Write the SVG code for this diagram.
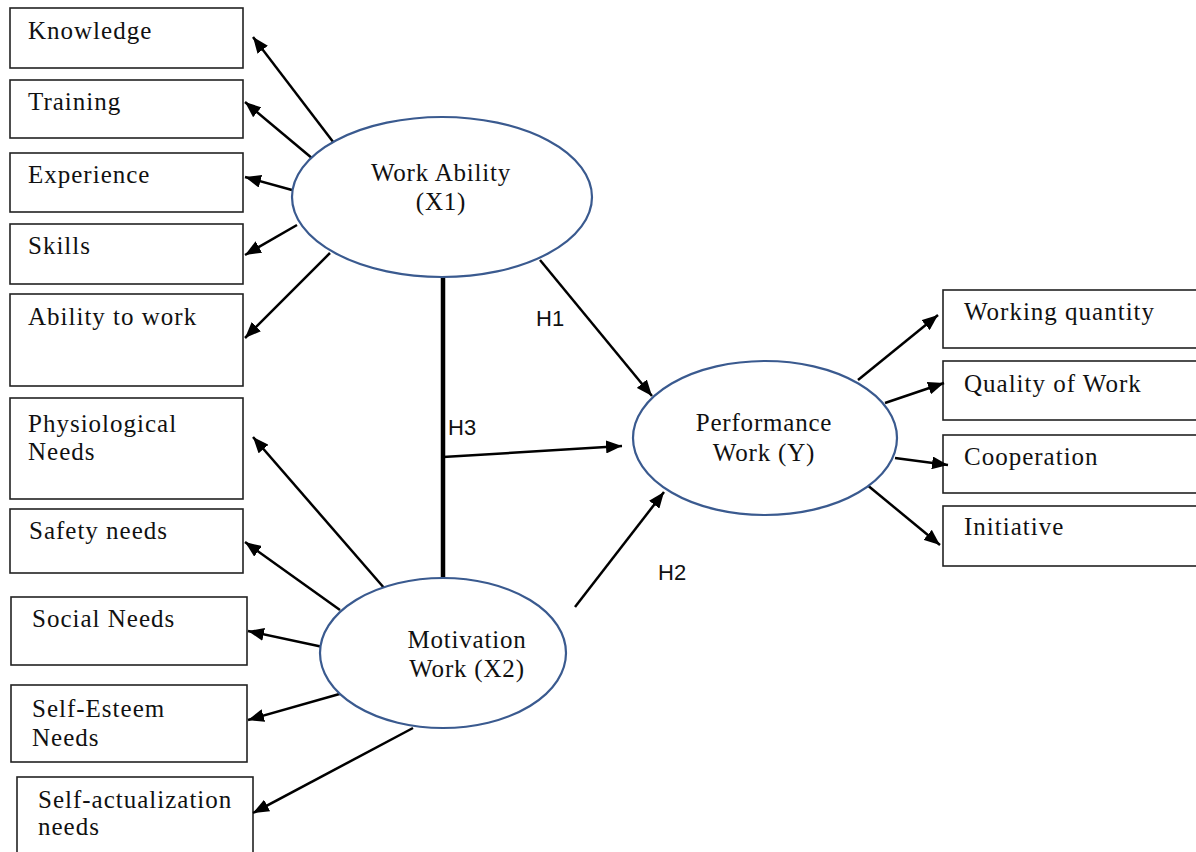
<svg xmlns="http://www.w3.org/2000/svg" width="1196" height="852" viewBox="0 0 1196 852">
<defs>
<marker id="ah" markerUnits="userSpaceOnUse" markerWidth="17" markerHeight="13" refX="16" refY="6.5" orient="auto">
<path d="M0,0 L16,6.5 L0,13 z" fill="#000"/>
</marker>
<style>
.box{fill:#fff;stroke:#222;stroke-width:1.6}
.ell{fill:#fff;stroke:#3a5a8f;stroke-width:2.2}
.t{font-family:"Liberation Serif","Times New Roman",serif;font-size:25px;letter-spacing:1px;fill:#111}
.tc{font-family:"Liberation Serif","Times New Roman",serif;font-size:25px;letter-spacing:0.8px;fill:#111;text-anchor:middle}
.h{font-family:"Liberation Sans",Arial,sans-serif;font-size:22px;fill:#111}
.c{stroke:#000;stroke-width:2.5;fill:none;marker-end:url(#ah)}
</style>
</defs>
<rect width="1196" height="852" fill="#fff"/>

<g id="knowledge"><rect class="box" x="10" y="8" width="233" height="60"/><text class="t" x="28" y="39">Knowledge</text></g>
<g id="training"><rect class="box" x="10" y="80" width="233" height="58"/><text class="t" x="28" y="110">Training</text></g>
<g id="experience"><rect class="box" x="10" y="153" width="233" height="59"/><text class="t" x="28" y="183">Experience</text></g>
<g id="skills"><rect class="box" x="10" y="224" width="233" height="60"/><text class="t" x="28" y="254">Skills</text></g>
<g id="ability"><rect class="box" x="10" y="294" width="233" height="92"/><text class="t" x="28" y="325">Ability to work</text></g>
<g id="physio"><rect class="box" x="10" y="398" width="233" height="101"/><text class="t" x="28" y="432">Physiological</text><text class="t" x="28" y="460">Needs</text></g>
<g id="safety"><rect class="box" x="10" y="509" width="233" height="64"/><text class="t" x="29" y="539">Safety needs</text></g>
<g id="social"><rect class="box" x="11" y="597" width="236" height="68"/><text class="t" x="32" y="627">Social Needs</text></g>
<g id="esteem"><rect class="box" x="11" y="685" width="236" height="77"/><text class="t" x="32" y="717">Self-Esteem</text><text class="t" x="32" y="746">Needs</text></g>
<g id="actual"><rect class="box" x="17" y="777" width="236" height="90"/><text class="t" x="38" y="808">Self-actualization</text><text class="t" x="38" y="835">needs</text></g>

<g id="quantity"><rect class="box" x="943" y="290" width="260" height="58"/><text class="t" x="964" y="320">Working quantity</text></g>
<g id="quality"><rect class="box" x="943" y="361" width="260" height="59"/><text class="t" x="964" y="392">Quality of Work</text></g>
<g id="coop"><rect class="box" x="943" y="435" width="260" height="58"/><text class="t" x="964" y="465">Cooperation</text></g>
<g id="init"><rect class="box" x="943" y="506" width="260" height="60"/><text class="t" x="964" y="535">Initiative</text></g>

<g id="connectors">
<line class="c" x1="337" y1="147" x2="253" y2="37"/>
<line class="c" x1="313" y1="159" x2="245" y2="102"/>
<line class="c" x1="292" y1="190" x2="245" y2="177"/>
<line class="c" x1="297" y1="225" x2="245" y2="255"/>
<line class="c" x1="330" y1="253" x2="245" y2="338"/>
<line class="c" x1="385" y1="589" x2="253" y2="437"/>
<line class="c" x1="340" y1="610" x2="245" y2="542"/>
<line class="c" x1="323" y1="647" x2="248" y2="631"/>
<line class="c" x1="343" y1="693" x2="248" y2="720"/>
<line class="c" x1="413" y1="728" x2="253" y2="813"/>
<line class="c" x1="540" y1="260" x2="652" y2="396"/>
<line stroke="#000" stroke-width="4.5" x1="443" y1="273" x2="443" y2="578"/>
<line class="c" stroke-width="3.5" x1="443" y1="457" x2="622" y2="446"/>
<line class="c" x1="575" y1="607" x2="664" y2="492"/>
<line class="c" x1="858" y1="380" x2="938" y2="315"/>
<line class="c" x1="885" y1="403" x2="944" y2="383"/>
<line class="c" x1="895" y1="458" x2="948" y2="465"/>
<line class="c" x1="866" y1="484" x2="940" y2="545"/>
<text class="h" x="536" y="326">H1</text>
<text class="h" x="448" y="435">H3</text>
<text class="h" x="658" y="580">H2</text>
</g>

<g id="workability"><ellipse class="ell" cx="442" cy="197" rx="150" ry="80"/><text class="tc" x="441" y="181">Work Ability</text><text class="tc" x="441" y="210">(X1)</text></g>
<g id="performance"><ellipse class="ell" cx="765" cy="438" rx="132" ry="77"/><text class="tc" x="764" y="431">Performance</text><text class="tc" x="764" y="461">Work (Y)</text></g>
<g id="motivation"><ellipse class="ell" cx="443" cy="653" rx="123" ry="75"/><text class="tc" x="467" y="648">Motivation</text><text class="tc" x="467" y="677">Work (X2)</text></g>
</svg>
